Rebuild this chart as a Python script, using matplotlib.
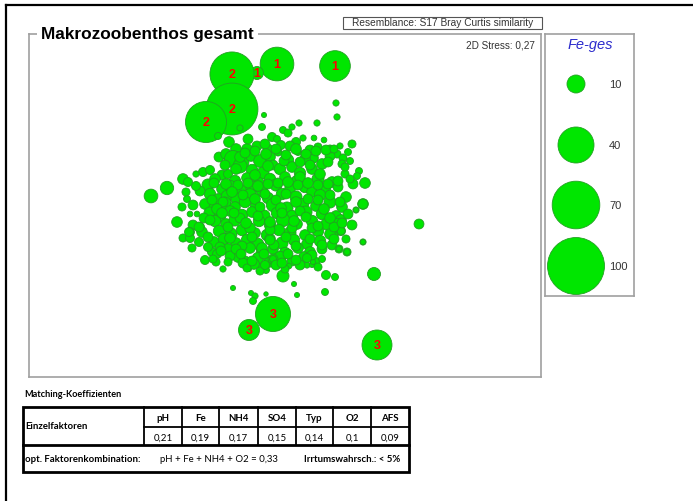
import matplotlib
matplotlib.use("Agg")
import matplotlib.pyplot as plt

plt.rcParams['font.family'] = ['Liberation Sans', 'DejaVu Sans']

# ---- nMDS ordination: sample coordinates (MDS1, MDS2) and total iron (Fe-ges) ----
cloud_x = [
    229, 218, 240, 262, 264, 272, 283, 292, 299, 288, 277, 303, 314, 324,
    317, 281, 296, 318, 340, 352, 298, 278, 337, 313, 247, 257, 268, 236,
    219, 226, 233, 242, 251, 260, 270, 288, 305, 322, 330, 343, 273, 348,
    203, 210, 222, 228, 240, 252, 263, 280, 292, 300, 312, 328, 342, 359,
    183, 188, 196, 215, 235, 247, 258, 270, 285, 297, 318, 332, 345, 357,
    167, 208, 222, 230, 241, 252, 262, 276, 290, 305, 312, 325, 338, 353,
    151, 187, 193, 210, 218, 227, 237, 250, 268, 282, 296, 320, 346, 365,
    182, 205, 214, 225, 235, 245, 256, 273, 287, 303, 316, 330, 342, 363,
    190, 197, 210, 220, 230, 242, 252, 264, 277, 292, 306, 322, 336, 356,
    177, 193, 215, 226, 235, 247, 259, 270, 283, 297, 312, 327, 341, 337,
    200, 190, 202, 219, 231, 242, 255, 267, 279, 290, 305, 318, 330, 341,
    183, 199, 214, 224, 236, 247, 258, 270, 282, 294, 307, 320, 332, 339,
    192, 212, 217, 228, 238, 250, 262, 273, 285, 298, 310, 322, 347, 363,
    205, 223, 238, 245, 258, 269, 280, 292, 304, 315, 273, 326, 335, 289,
    249, 260, 266, 233, 251, 255, 253, 266, 283, 294, 297, 325, 374, 419,
    363, 356, 363, 347, 339, 341, 337, 307, 312, 313, 322, 275, 273, 337,
    336, 350, 248, 265, 290, 310, 330, 345, 255, 240, 300, 320, 284, 268,
    245, 255, 266, 276, 286, 296, 306, 316, 326, 334, 225, 236, 300, 310,
    214, 226, 238, 248, 258, 268, 278, 288, 298, 308, 318, 328, 338, 350,
    200, 212, 223, 232, 243, 255, 265, 276, 286, 296, 308, 318, 330, 340,
    204, 217, 228, 240, 250, 260, 270, 281, 292, 300, 312, 324, 334, 348,
    208, 220, 230, 242, 252, 262, 274, 286, 296, 310, 322, 334, 216, 346,
    230, 243, 254, 264, 276, 288, 300, 312, 228, 236, 285, 260, 247, 270,
    210, 222, 234, 246, 258, 270, 282, 294, 306, 318, 330, 342, 190, 352,
    189, 199, 208, 186, 196, 213, 221, 252, 265, 296, 307, 318, 241, 282,
]
cloud_y = [
    143, 137, 129, 128, 116, 138, 131, 128, 124, 134, 140, 139, 139, 141,
    124, 146, 143, 148, 147, 145, 153, 153, 155, 159, 150, 147, 150, 150,
    158, 155, 160, 163, 157, 162, 158, 161, 160, 165, 157, 159, 166, 153,
    173, 171, 176, 175, 167, 171, 174, 170, 168, 174, 170, 163, 165, 172,
    180, 183, 175, 180, 182, 179, 184, 180, 178, 182, 180, 183, 175, 177,
    189, 186, 190, 187, 191, 188, 192, 186, 190, 188, 193, 190, 188, 185,
    197, 200, 206, 195, 200, 197, 200, 196, 199, 195, 198, 196, 198, 184,
    208, 205, 209, 204, 208, 203, 207, 206, 209, 205, 207, 203, 208, 205,
    215, 215, 214, 217, 212, 216, 213, 217, 214, 217, 213, 215, 217, 211,
    223, 226, 222, 225, 221, 226, 222, 226, 221, 225, 222, 225, 221, 232,
    228, 233, 233, 232, 235, 231, 234, 236, 231, 234, 236, 232, 235, 232,
    239, 243, 243, 240, 244, 241, 245, 240, 244, 241, 245, 242, 246, 250,
    249, 253, 255, 250, 253, 249, 253, 250, 254, 249, 253, 250, 253, 243,
    261, 270, 258, 262, 259, 263, 258, 262, 258, 263, 260, 276, 278, 267,
    270, 267, 271, 289, 294, 297, 302, 295, 277, 285, 296, 293, 275, 225,
    243, 211, 205, 253, 250, 232, 223, 266, 266, 263, 260, 265, 260, 118,
    104, 162, 140, 145, 147, 151, 150, 168, 176, 158, 178, 175, 162, 167,
    154, 152, 155, 150, 156, 150, 155, 152, 151, 150, 166, 170, 163, 166,
    184, 185, 186, 184, 187, 185, 184, 183, 186, 184, 186, 185, 182, 180,
    192, 201, 203, 193, 196, 200, 195, 201, 195, 203, 200, 201, 196, 203,
    219, 210, 228, 219, 229, 208, 231, 209, 229, 212, 229, 210, 228, 215,
    238, 248, 239, 247, 238, 249, 246, 238, 247, 240, 246, 240, 263, 240,
    257, 264, 265, 255, 266, 255, 266, 256, 263, 250, 270, 272, 269, 241,
    221, 214, 214, 224, 217, 223, 214, 222, 218, 227, 219, 224, 239, 226,
    233, 228, 248, 193, 187, 260, 252, 262, 266, 261, 259, 268, 255, 264,
]
cloud_fe = [
    3.5, 1.5, 1.2, 1.5, 0.8, 2.5, 1.5, 1.2, 1.2, 2.0, 1.5, 1.2, 1.0, 1.0,
    1.2, 2.5, 2.5, 2.0, 1.2, 2.0, 1.5, 2.0, 2.0, 3.5, 3.5, 3.0, 3.0, 3.5,
    3.0, 3.5, 9.0, 6.0, 3.5, 5.0, 3.5, 4.0, 3.5, 3.5, 3.0, 2.0, 3.0, 1.5,
    2.5, 2.5, 3.0, 2.5, 6.0, 4.0, 4.5, 4.0, 3.5, 4.0, 3.5, 3.0, 2.0, 1.5,
    3.5, 2.5, 1.2, 3.5, 4.0, 3.5, 4.5, 4.0, 3.5, 4.0, 4.5, 3.5, 2.0, 1.5,
    5.5, 4.5, 3.5, 4.0, 3.5, 4.5, 4.0, 4.5, 3.5, 4.0, 3.5, 4.0, 3.0, 3.0,
    5.8, 1.5, 3.0, 4.0, 3.5, 4.0, 4.5, 5.0, 4.0, 4.0, 4.5, 4.0, 3.5, 3.5,
    2.0, 3.5, 3.5, 4.5, 3.5, 4.0, 4.0, 5.5, 4.5, 4.0, 3.5, 4.5, 3.5, 3.5,
    1.0, 1.0, 4.5, 4.0, 3.5, 4.0, 3.5, 4.5, 4.0, 4.0, 4.5, 4.0, 3.5, 1.2,
    3.5, 3.0, 4.0, 3.5, 4.5, 3.5, 4.0, 4.0, 5.5, 3.5, 4.0, 4.5, 3.5, 2.5,
    2.5, 2.5, 3.5, 4.0, 4.5, 4.0, 3.5, 4.0, 4.0, 4.5, 3.5, 4.0, 3.5, 2.5,
    2.0, 2.5, 3.5, 4.0, 3.5, 4.0, 4.0, 3.5, 4.5, 4.0, 3.5, 4.0, 3.0, 2.0,
    2.0, 2.5, 2.5, 3.5, 4.0, 3.5, 4.0, 3.5, 4.0, 3.5, 3.5, 3.0, 2.0, 1.2,
    2.5, 1.2, 3.5, 3.0, 4.0, 3.5, 4.0, 3.0, 3.5, 3.0, 3.0, 2.5, 1.5, 1.0,
    0.8, 0.8, 1.5, 0.8, 0.8, 1.2, 1.5, 0.6, 4.5, 0.8, 0.8, 1.5, 5.2, 3.0,
    0.8, 0.8, 3.0, 1.2, 1.0, 2.0, 1.5, 1.2, 0.8, 0.8, 1.5, 2.0, 1.5, 1.2,
    1.2, 1.5, 3.0, 3.0, 3.0, 3.0, 2.0, 2.0, 3.5, 3.5, 3.5, 3.5, 3.0, 3.5,
    3.0, 3.0, 3.5, 3.0, 3.0, 3.5, 3.0, 3.0, 3.0, 2.0, 3.0, 3.5, 3.0, 3.0,
    3.0, 3.5, 3.0, 3.0, 3.5, 3.0, 3.0, 3.5, 3.0, 3.5, 3.0, 3.0, 3.0, 2.0,
    3.0, 3.0, 3.0, 3.5, 3.0, 3.5, 3.0, 3.0, 3.0, 3.5, 3.0, 3.0, 3.0, 3.0,
    3.0, 3.5, 3.0, 3.0, 3.5, 3.0, 3.0, 3.5, 3.0, 3.0, 3.0, 3.5, 3.0, 3.0,
    3.0, 3.0, 3.5, 3.0, 3.0, 3.5, 3.0, 3.0, 3.0, 3.0, 3.0, 3.0, 2.0, 2.0,
    3.0, 3.0, 3.5, 3.0, 3.0, 3.0, 3.0, 3.0, 2.0, 3.0, 2.0, 2.0, 2.0, 3.0,
    3.0, 3.5, 3.0, 3.5, 3.0, 3.5, 3.0, 3.5, 3.0, 3.0, 3.5, 3.0, 2.5, 3.0,
    2.5, 3.0, 2.5, 2.0, 2.5, 2.0, 3.0, 3.0, 2.5, 3.0, 2.5, 2.0, 3.0, 3.0,
]

# Labelled stations (groups 1-3) with high iron
group_x = [277, 335, 257, 232, 232, 206, 273, 249, 377]
group_y = [65, 67, 74, 75, 110, 123, 315, 331, 346]
group_fe = [35, 29, 5.2, 60, 83, 52, 38, 13.6, 27.7]
group_lab = ['1', '1', '1', '2', '2', '2', '3', '3', '3']

legend_fe = [10, 40, 70, 100]

factors = ['pH', 'Fe', 'NH4', 'SO4', 'Typ', 'O2', 'AFS']
coeffs = ['0,21', '0,19', '0,17', '0,15', '0,14', '0,1', '0,09']

# ---- bubble styling: marker area proportional to Fe-ges ----
SIZE_K = 16.8
FACE = '#00e600'
EDGE = '#23a023'

W, H = 693, 502
fig = plt.figure(figsize=(W / 100, H / 100), dpi=100)
fig.patch.set_facecolor('white')


def px_axes(x0, y0, x1, y1):
    return fig.add_axes([x0 / W, 1 - y1 / H, (x1 - x0) / W, (y1 - y0) / H])


# ordination panel
ax = px_axes(29, 35, 541, 378)
ax.set_xlim(29, 541)
ax.set_ylim(378, 35)
ax.set_xticks([])
ax.set_yticks([])
for s in ax.spines.values():
    s.set_color('#a0a0a0')
    s.set_linewidth(1.2)

ax.scatter(group_x, group_y, s=[SIZE_K * v for v in group_fe],
           c=FACE, edgecolors=EDGE, linewidths=0.6, zorder=2)
n = min(len(cloud_x), len(cloud_y), len(cloud_fe))
ax.scatter(cloud_x[:n], cloud_y[:n], s=[SIZE_K * v for v in cloud_fe[:n]],
           c=FACE, edgecolors=EDGE, linewidths=0.6, zorder=3)
for gx, gy, gl in zip(group_x, group_y, group_lab):
    ax.text(gx, gy, gl, color='#ff0000', fontsize=9, fontweight='bold',
            ha='center', va='center', zorder=5)

# size legend
lg = px_axes(545, 35, 634, 297)
lg.set_xlim(545, 634)
lg.set_ylim(297, 35)
lg.set_xticks([])
lg.set_yticks([])
for s in lg.spines.values():
    s.set_color('#a0a0a0')
    s.set_linewidth(1.2)
leg_y = [85, 146, 206, 267]
lg.scatter([576] * len(legend_fe), leg_y, s=[SIZE_K * v for v in legend_fe],
           c=FACE, edgecolors=EDGE, linewidths=0.6)
for yy, v in zip(leg_y, legend_fe):
    lg.text(609, yy, str(v), fontsize=8, color='#333333', ha='left', va='center')
lg.text(590, 45, 'Fe-ges', fontsize=10.5, style='italic', color='#2b2bcc',
        ha='center', va='center')

# overlay for frame, headings and the matching table
ov = fig.add_axes([0, 0, 1, 1])
ov.set_xlim(0, W)
ov.set_ylim(H, 0)
ov.axis('off')
ov.patch.set_alpha(0)

ov.plot([6, 6], [6, H], color='black', lw=1.6)
ov.plot([6, W], [6, 6], color='black', lw=1.6)

ov.text(41, 35, 'Makrozoobenthos gesamt', fontsize=12.4, fontweight='bold',
        ha='left', va='center',
        bbox=dict(boxstyle='square,pad=0.25', fc='white', ec='none'))
ov.text(442.5, 23.5, 'Resemblance: S17 Bray Curtis similarity', fontsize=7.3,
        color='#333333', ha='center', va='center')
ov.add_patch(plt.Rectangle((343, 18), 199, 12, fill=False, ec='#555555', lw=0.8))
ov.text(535, 45, '2D Stress: 0,27', fontsize=7.2, color='#333333',
        ha='right', va='center')

tf = ['Lato', 'DejaVu Sans']
ov.text(24, 395, 'Matching-Koeffizienten', fontsize=6.6, fontweight='bold',
        family=tf, ha='left', va='center')

# table grid
x_left, x_first, x_right = 23, 144, 409
col_edges = [144, 182, 219, 258, 296, 333, 371, 409]
y_top, y_mid, y_sep, y_bot = 408, 428, 446, 473
ov.add_patch(plt.Rectangle((x_left, y_top), x_right - x_left, y_bot - y_top,
                           fill=False, ec='black', lw=2))
ov.plot([x_left, x_right], [y_sep, y_sep], color='black', lw=2)
ov.plot([x_first, x_right], [y_mid, y_mid], color='black', lw=1.3)
for xe in col_edges[:-1]:
    ov.plot([xe, xe], [y_top, y_sep], color='black', lw=1.3)

ov.text(25, 427, 'Einzelfaktoren', fontsize=6.9, fontweight='bold', family=tf,
        ha='left', va='center')
for i, (f, c) in enumerate(zip(factors, coeffs)):
    xc = (col_edges[i] + col_edges[i + 1]) / 2
    ov.text(xc, 419, f, fontsize=7, fontweight='bold', family=tf,
            ha='center', va='center')
    ov.text(xc, 438, c, fontsize=7, family=tf, ha='center', va='center')
ov.text(25, 460, 'opt. Faktorenkombination:', fontsize=6.9, fontweight='bold',
        family=tf, ha='left', va='center')
ov.text(219, 460, 'pH + Fe + NH4 + O2 = 0,33', fontsize=6.9, family=tf,
        ha='center', va='center')
ov.text(352, 460, 'Irrtumswahrsch.: < 5%', fontsize=6.9, fontweight='bold',
        family=tf, ha='center', va='center')

fig.savefig('out.png', dpi=100)
